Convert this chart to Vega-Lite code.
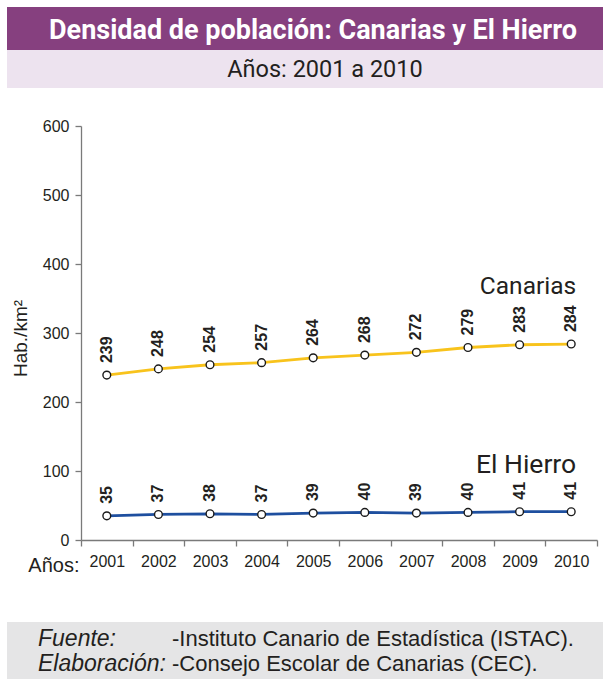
{
  "$schema": "https://vega.github.io/schema/vega-lite/v6.json",
  "padding": {"left": 7, "top": 7, "right": 10, "bottom": 0},
  "spacing": 0,
  "bounds": "full",
  "config": {"view": {"stroke": null}, "font": "Liberation Sans"},
  "vconcat": [
    {
      "width": 596, "height": 43,
      "view": {"fill": "#86407f", "stroke": null},
      "data": {"values": [{"t": "Densidad de población:  Canarias y El Hierro"}]},
      "mark": {"type": "text", "font": "Roboto", "fontWeight": "bold", "fontSize": 27, "color": "white", "baseline": "middle", "dy": 2, "dx": 8},
      "encoding": {"text": {"field": "t"}}
    },
    {
      "width": 596, "height": 38,
      "view": {"fill": "#ede3ef", "stroke": null},
      "data": {"values": [{"t": "Años: 2001 a 2010"}]},
      "mark": {"type": "text", "font": "Roboto", "fontSize": 23.5, "color": "#231f20", "baseline": "middle", "dy": 1, "dx": 20},
      "encoding": {"text": {"field": "t"}}
    },
    {
      "spacing": 0,
      "bounds": "flush",
      "hconcat": [
        {
          "width": 74, "height": 534,
          "data": {"values": []},
          "mark": {"type": "text"},
          "encoding": {}
        },
        {
          "width": 516, "height": 534,
          "data": {"values": [
            {"series": "Canarias", "year": "2001", "value": 239},
            {"series": "Canarias", "year": "2002", "value": 248},
            {"series": "Canarias", "year": "2003", "value": 254},
            {"series": "Canarias", "year": "2004", "value": 257},
            {"series": "Canarias", "year": "2005", "value": 264},
            {"series": "Canarias", "year": "2006", "value": 268},
            {"series": "Canarias", "year": "2007", "value": 272},
            {"series": "Canarias", "year": "2008", "value": 279},
            {"series": "Canarias", "year": "2009", "value": 283},
            {"series": "Canarias", "year": "2010", "value": 284},
            {"series": "El Hierro", "year": "2001", "value": 35},
            {"series": "El Hierro", "year": "2002", "value": 37},
            {"series": "El Hierro", "year": "2003", "value": 38},
            {"series": "El Hierro", "year": "2004", "value": 37},
            {"series": "El Hierro", "year": "2005", "value": 39},
            {"series": "El Hierro", "year": "2006", "value": 40},
            {"series": "El Hierro", "year": "2007", "value": 39},
            {"series": "El Hierro", "year": "2008", "value": 40},
            {"series": "El Hierro", "year": "2009", "value": 41},
            {"series": "El Hierro", "year": "2010", "value": 41}
          ]},
          "encoding": {
            "x": {
              "field": "year", "type": "ordinal",
              "scale": {"type": "band", "paddingInner": 0, "paddingOuter": 0},
              "axis": {
                "title": "Años:", "offset": -82, "tickBand": "extent", "labelAngle": 0,
                "labelFont": "Liberation Sans", "labelFontSize": 16, "labelColor": "#231f20", "labelPadding": 7,
                "tickSize": 6, "tickColor": "#7a7a7a", "domainColor": "#7a7a7a", "domainWidth": 1.3, "tickWidth": 1.3,
                "titleFont": "Liberation Sans", "titleFontSize": 20, "titleFontWeight": "normal", "titleColor": "#231f20",
                "titleX": -2, "titleY": 25, "titleAlign": "right", "titleBaseline": "middle", "titleAnchor": null,
                "grid": false
              }
            },
            "y": {
              "field": "value", "type": "quantitative",
              "scale": {"domain": [0, 600], "range": [452, 38], "nice": false, "zero": true},
              "axis": {
                "title": "Hab./km²", "values": [0, 100, 200, 300, 400, 500, 600],
                "labelFont": "Liberation Sans", "labelFontSize": 16, "labelColor": "#231f20", "labelPadding": 6,
                "tickSize": 6, "tickColor": "#7a7a7a", "domainColor": "#7a7a7a", "domainWidth": 1.3, "tickWidth": 1.3,
                "titleFont": "Liberation Sans", "titleFontSize": 19, "titleFontWeight": "normal", "titleColor": "#231f20",
                "titleX": -61, "titleY": 250, "titleAngle": 270, "titleAlign": "center", "titleBaseline": "middle",
                "grid": false
              }
            }
          },
          "layer": [
            {
              "mark": {"type": "line", "strokeWidth": 2.8},
              "encoding": {
                "color": {"field": "series", "type": "nominal", "scale": {"domain": ["Canarias", "El Hierro"], "range": ["#f8c31c", "#1e4f9f"]}, "legend": null}
              }
            },
            {
              "mark": {"type": "point", "shape": "circle", "filled": true, "fill": "white", "stroke": "#1a1a1a", "strokeWidth": 1.4, "size": 60, "opacity": 1},
              "encoding": {"detail": {"field": "series"}}
            },
            {
              "mark": {"type": "text", "angle": 270, "align": "left", "baseline": "middle", "dx": 12, "font": "Liberation Sans", "fontWeight": "bold", "fontSize": 16, "color": "#231f20"},
              "encoding": {"text": {"field": "value", "type": "quantitative"}}
            },
            {
              "transform": [{"filter": "datum.series === 'Canarias' && datum.year === '2010'"}],
              "mark": {"type": "text", "align": "right", "baseline": "alphabetic", "dx": 5, "dy": -50, "font": "Roboto", "fontSize": 24.5, "color": "#231f20"},
              "encoding": {"text": {"field": "series"}}
            },
            {
              "transform": [{"filter": "datum.series === 'El Hierro' && datum.year === '2010'"}],
              "mark": {"type": "text", "align": "right", "baseline": "alphabetic", "dx": 5, "dy": -39, "font": "Roboto", "fontSize": 26.5, "color": "#231f20"},
              "encoding": {"text": {"field": "series"}}
            }
          ]
        }
      ]
    },
    {
      "width": 596, "height": 57,
      "view": {"fill": "#e5e5e6", "stroke": null},
      "data": {"values": [
        {"row": "1", "label": "Fuente:", "body": "-Instituto Canario de Estadística (ISTAC)."},
        {"row": "2", "label": "Elaboración:", "body": "-Consejo Escolar de Canarias (CEC)."}
      ]},
      "encoding": {
        "y": {"field": "row", "type": "ordinal", "scale": {"type": "point", "range": [17, 42], "padding": 0}, "axis": null}
      },
      "layer": [
        {
          "mark": {"type": "text", "align": "left", "baseline": "middle", "font": "Liberation Sans", "fontStyle": "italic", "fontSize": 23, "color": "#231f20"},
          "encoding": {
            "x": {"datum": "label", "type": "nominal", "scale": {"type": "point", "domain": ["label", "body"], "range": [31, 165], "padding": 0}, "axis": null},
            "text": {"field": "label"}
          }
        },
        {
          "mark": {"type": "text", "align": "left", "baseline": "middle", "font": "Liberation Sans", "fontSize": 22, "color": "#231f20"},
          "encoding": {
            "x": {"datum": "body", "type": "nominal"},
            "text": {"field": "body"}
          }
        }
      ]
    }
  ]
}
